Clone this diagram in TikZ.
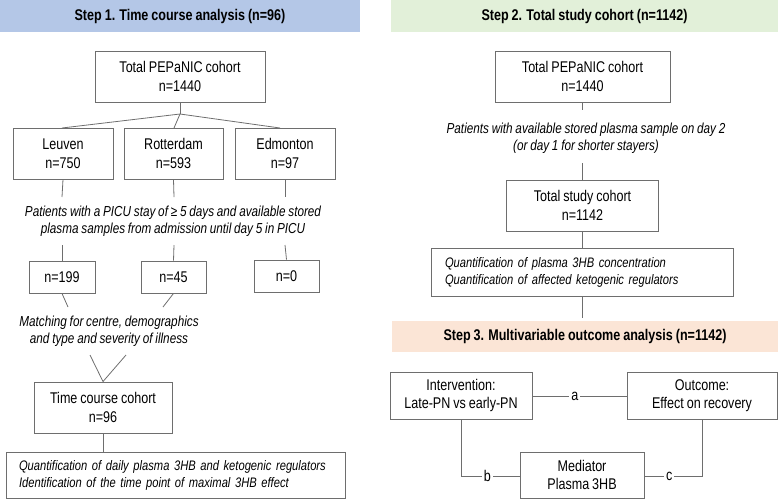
\documentclass[tikz,border=0pt]{standalone}
\usepackage{fontspec}
\setmainfont{Liberation Sans}[FakeStretch=0.81, WordSpace=0.85]
\usetikzlibrary{calc}
\definecolor{hblue}{RGB}{180,199,231}
\definecolor{hgreen}{RGB}{226,240,217}
\definecolor{horange}{RGB}{251,229,214}
\definecolor{bordergray}{RGB}{110,110,110}
\tikzset{
  box/.style={draw=bordergray, line width=0.9pt, inner sep=0pt, align=center,
    font=\fontsize{15.5}{18.5}\selectfont, fill=white},
  note/.style={inner sep=0pt, align=center, font=\fontsize{14.5}{17}\selectfont\itshape},
  notebox/.style={draw=bordergray, line width=0.9pt, inner sep=0pt, align=left,
    font=\fontsize{13.8}{17}\selectfont\itshape},
  header/.style={inner sep=0pt, font=\fontsize{15.5}{18}\selectfont\bfseries},
  conn/.style={draw=bordergray, line width=0.8pt},
  lbl/.style={fill=white, inner sep=2pt, font=\fontsize{15.5}{18}\selectfont},
}
\begin{document}
\begin{tikzpicture}[x=1pt,y=-1pt]
\useasboundingbox (0,0) rectangle (778,499);
% headers
\fill[hblue] (0,0) rectangle (360,32);
\node[header] (h1) at (180,16) {Step 1. Time course analysis (n=96)};
\fill[hgreen] (391,0) rectangle (778,32);
\node[header] (h2) at (584.5,16) {Step 2. Total study cohort (n=1142)};
\fill[horange] (392,321) rectangle (778,352);
\node[header] (h3) at (585,336.5) {Step 3. Multivariable outcome analysis (n=1142)};

% ---------- Step 1 ----------
\node[box, minimum width=170pt, minimum height=51pt] (tot1) at (180,76.5) {Total PEPaNIC cohort\\n=1440};
\node[box, minimum width=100pt, minimum height=51pt] (leu) at (63,153.5) {Leuven\\n=750};
\node[box, minimum width=99pt, minimum height=51pt] (rot) at (173.5,153.5) {Rotterdam\\n=593};
\node[box, minimum width=100pt, minimum height=51pt] (edm) at (285,153.5) {Edmonton\\n=97};
\coordinate (j1) at (180,114);
\coordinate (leuT) at (62,128);
\coordinate (rotT) at (174,128);
\coordinate (edmT) at (280,128);
\draw[conn] (tot1.south) -- (j1);
\draw[conn] (j1) -- (leuT);
\draw[conn] (j1) -- (rotT);
\draw[conn] (j1) -- (edmT);

\node[note] (crit1) at (173,221.5) {Patients with a PICU stay of ≥ 5 days and available stored\\plasma samples from admission until day 5 in PICU};

\node[box, minimum width=66pt, minimum height=32pt] (n199) at (62,277) {n=199};
\node[box, minimum width=65pt, minimum height=32pt] (n45) at (173.5,277) {n=45};
\node[box, minimum width=65pt, minimum height=32pt] (n0) at (286.5,276) {n=0};

\coordinate (la1) at (62,197); \coordinate (lb1) at (62,245);
\coordinate (la2) at (174,197); \coordinate (lb2) at (174,245);
\coordinate (la3) at (285,197); \coordinate (lb3) at (285,245);
\draw[conn] (leu.south) -- (la1);
\draw[conn] (lb1) -- (n199.north);
\draw[conn] (rot.south) -- (la2);
\draw[conn] (lb2) -- (n45.north);
\draw[conn] (edm.south) -- (la3);
\draw[conn] (lb3) -- (n0.north);

\coordinate (s1) at (68,307);
\coordinate (s2) at (163,307);
\draw[conn] (n199.south) -- (s1);
\draw[conn] (n45.south) -- (s2);

\node[note] (match) at (109,331) {Matching for centre, demographics\\and type and severity of illness};

\node[box, minimum width=138pt, minimum height=51pt] (tcc) at (103,407.5) {Time course cohort\\n=96};
\coordinate (m1) at (90,355);
\coordinate (m2) at (126,355);
\draw[conn] (m1) -- (tcc.north);
\draw[conn] (m2) -- (tcc.north);

\node[notebox, minimum width=339pt, minimum height=46pt, text width=313pt] (q1) at (175.5,475) {\mbox{Quantification of daily plasma 3HB and ketogenic regulators}\\\mbox{Identification of the time point of maximal 3HB effect}};
\draw[conn] (tcc.south) -- (q1.north -| tcc.south);

% ---------- Step 2 ----------
\node[box, minimum width=175pt, minimum height=51pt] (tot2) at (582.5,76.5) {Total PEPaNIC cohort\\n=1440};
\coordinate (t2a) at (582.5,110);
\draw[conn] (tot2.south) -- (t2a);
\node[note] (crit2) at (586,138.5) {Patients with available stored plasma sample on day 2\\(or day 1 for shorter stayers)};
\node[box, minimum width=152pt, minimum height=51pt] (tsc) at (582.5,205.5) {Total study cohort\\n=1142};
\coordinate (t2b) at (582.5,163);
\draw[conn] (t2b) -- (tsc.north);
\node[notebox, minimum width=302pt, minimum height=48pt, text width=274pt] (q2) at (582,272) {\mbox{Quantification of plasma 3HB concentration}\\\mbox{Quantification of affected ketogenic regulators}};
\draw[conn] (tsc.south) -- (q2.north -| tsc.south);
\coordinate (t2c) at (582.5,318);
\draw[conn] (q2.south -| tsc.south) -- (t2c);

% ---------- Step 3 ----------
\node[box, minimum width=142pt, minimum height=47pt] (int) at (461,395.5) {Intervention:\\Late-PN vs early-PN};
\node[box, minimum width=150pt, minimum height=47pt] (out) at (702,395.5) {Outcome:\\Effect on recovery};
\node[box, minimum width=124pt, minimum height=46pt] (med) at (582,475) {Mediator\\Plasma 3HB};

\draw[conn] (int.east |- 0,396) -- node[lbl, pos=0.45] {a} (out.west |- 0,396);
\coordinate (bc) at (461,476);
\draw[conn] (int.south) -- (bc) -- node[lbl, pos=0.45] {b} (med.west |- bc);
\coordinate (cc) at (702,476);
\draw[conn] (med.east |- cc) -- node[lbl, pos=0.43] {c} (cc) -- (out.south);
\end{tikzpicture}
\end{document}
